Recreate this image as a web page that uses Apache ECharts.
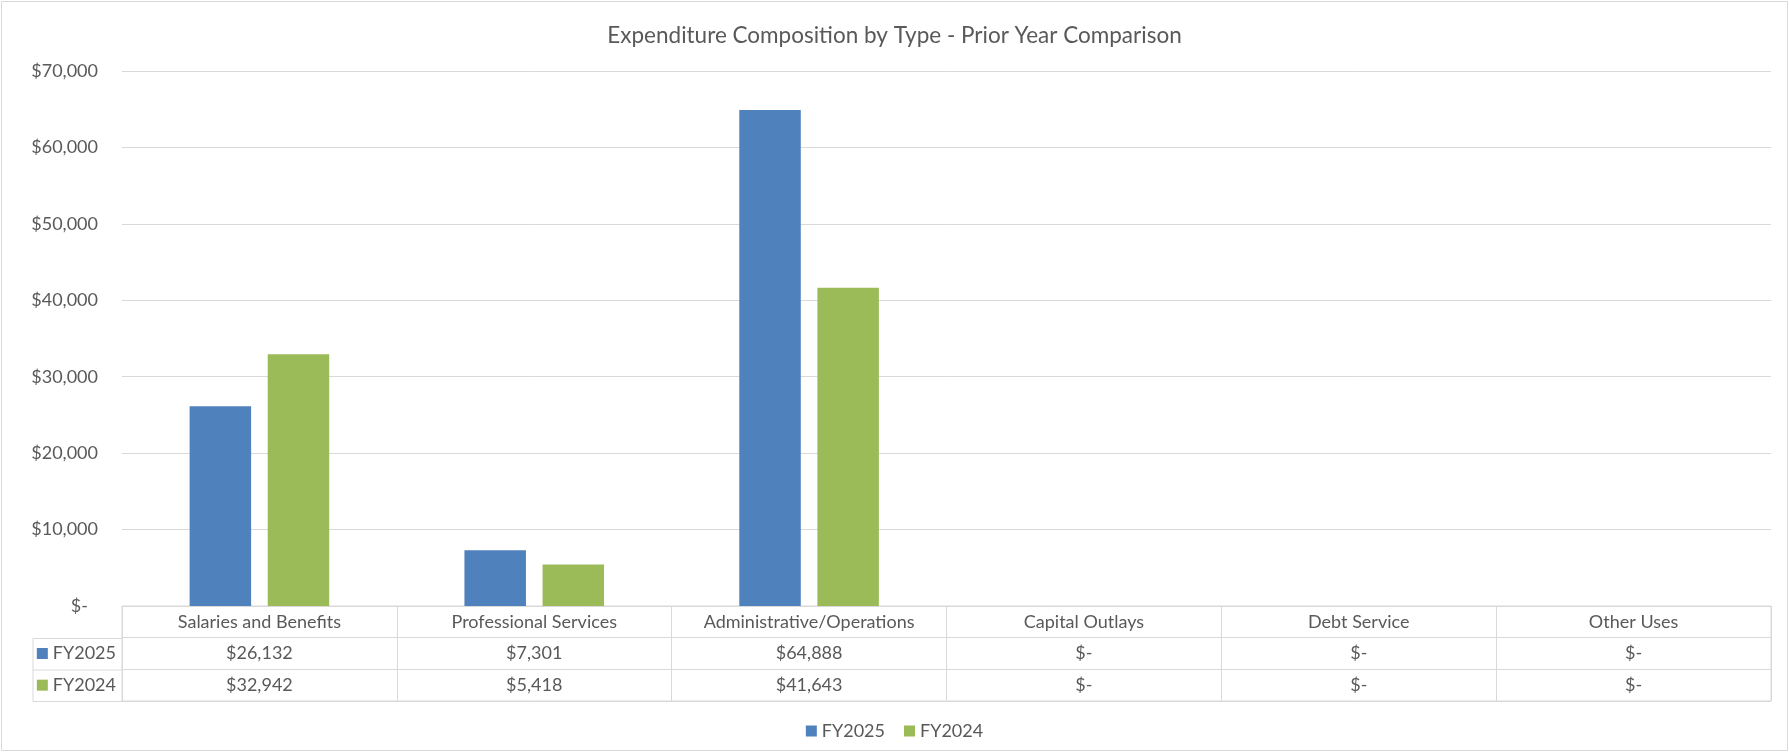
<!DOCTYPE html>
<html>
<head>
<meta charset="utf-8">
<script src="https://cdn.jsdelivr.net/npm/echarts@6/dist/echarts.min.js"></script>
<style>
  html, body { margin: 0; padding: 0; background: #ffffff; }
  #chart { width: 1789px; height: 752px; }
</style>
</head>
<body>
<div id="chart"></div>
<script>
// ---- Data ----
const chartTitle = 'Expenditure Composition by Type - Prior Year Comparison';
const categories = ['Salaries and Benefits', 'Professional Services', 'Administrative/Operations', 'Capital Outlays', 'Debt Service', 'Other Uses'];
const seriesNames = ['FY2025', 'FY2024'];
const fy2025 = [26132, 7301, 64888, 0, 0, 0];
const fy2024 = [32942, 5418, 41643, 0, 0, 0];
const yMin = 0, yMax = 70000, yInterval = 10000;

// ---- Styling ----
const FONT = 'Lato';
const TEXT = '#595959';
const GRIDC = '#d9d9d9';
const COLORS = ['#4F81BD', '#9BBB59'];

function money(v) {
  if (v === 0) return '$-';
  return '$' + v.toLocaleString('en-US');
}

const seriesData = [fy2025, fy2024];
const tableRows = ['', seriesNames[0], seriesNames[1]];
const cellData = [];
const cellText = [];
categories.forEach((c, i) => {
  cellData.push([i, 0]); cellText.push(c);
  seriesData.forEach((arr, s) => {
    cellData.push([i, s + 1]); cellText.push(money(arr[i]));
  });
});

const L = 122, R = 18, PT = 71, AXY = 606, TBH = 95;
const chart = echarts.init(document.getElementById('chart'), null, { renderer: 'canvas' });

const option = {
  animation: false,
  backgroundColor: '#ffffff',
  title: {
    text: chartTitle,
    left: 'center',
    top: 19,
    textStyle: { fontFamily: FONT, fontSize: 22.5, fontWeight: 'normal', color: TEXT }
  },
  legend: {
    data: seriesNames,
    left: 'center',
    top: 717,
    icon: 'rect',
    itemWidth: 11,
    itemHeight: 11,
    itemGap: 19,
    textStyle: { fontFamily: FONT, fontSize: 18, color: TEXT, padding: [0, 0, 0, 0] }
  },
  grid: [
    { left: L, right: R, top: PT, height: AXY - PT },
    { left: L, right: R, top: AXY, height: TBH, show: true, borderColor: GRIDC, borderWidth: 1, backgroundColor: 'transparent' }
  ],
  xAxis: [
    {
      type: 'category', gridIndex: 0, data: categories,
      axisLine: { show: true, lineStyle: { color: GRIDC, width: 1 } },
      axisTick: { show: false }, axisLabel: { show: false }, splitLine: { show: false }
    },
    {
      type: 'category', gridIndex: 1, data: categories, boundaryGap: true,
      axisLine: { show: false }, axisTick: { show: false }, axisLabel: { show: false },
      splitLine: { show: true, interval: 0, lineStyle: { color: GRIDC, width: 1 } }
    }
  ],
  yAxis: [
    {
      type: 'value', gridIndex: 0, min: yMin, max: yMax, interval: yInterval,
      axisLine: { show: false }, axisTick: { show: false },
      splitLine: { show: true, lineStyle: { color: GRIDC, width: 1 } },
      axisLabel: {
        margin: 24,
        fontFamily: FONT, fontSize: 18, color: TEXT,
        formatter: v => v === 0 ? '{z|$-}' : money(v),
        rich: { z: { fontFamily: FONT, fontSize: 18, color: TEXT, padding: [0, 10, 0, 0] } }
      }
    },
    {
      type: 'category', gridIndex: 1, data: tableRows, inverse: true, boundaryGap: true,
      axisLine: { show: false }, axisTick: { show: false },
      splitLine: { show: true, interval: 0, lineStyle: { color: GRIDC, width: 1 } },
      axisLabel: {
        margin: 6, interval: 0,
        formatter: (v, i) => v === '' ? '' : '{s' + (i - 1) + '|}{t|' + v + '}',
        rich: {
          s0: { width: 11, height: 11, backgroundColor: COLORS[0] },
          s1: { width: 11, height: 11, backgroundColor: COLORS[1] },
          t: { fontFamily: FONT, fontSize: 18, color: TEXT, padding: [0, 0, 0, 5] }
        }
      }
    }
  ],
  series: [
    {
      name: seriesNames[0], type: 'bar', xAxisIndex: 0, yAxisIndex: 0,
      data: fy2025, barWidth: 61.5, barGap: '27%',
      itemStyle: { color: COLORS[0] }
    },
    {
      name: seriesNames[1], type: 'bar', xAxisIndex: 0, yAxisIndex: 0,
      data: fy2024, barWidth: 61.5, barGap: '27%',
      itemStyle: { color: COLORS[1] }
    },
    {
      name: 'table', type: 'custom', xAxisIndex: 1, yAxisIndex: 1,
      data: cellData, silent: true,
      renderItem: (params, api) => {
        const p = api.coord([api.value(0), api.value(1)]);
        return {
          type: 'text', x: p[0], y: p[1],
          style: {
            text: cellText[params.dataIndex],
            align: 'center', verticalAlign: 'middle',
            fill: TEXT, font: '18px ' + FONT
          }
        };
      }
    }
  ],
  graphic: [
    { type: 'rect', shape: { x: 1.5, y: 1.5, width: 1786, height: 749 }, style: { fill: 'none', stroke: GRIDC, lineWidth: 1 }, silent: true },
    { type: 'polyline', shape: { points: [[L, 638.5], [33, 638.5], [33, 701.5], [L, 701.5]] }, style: { fill: 'none', stroke: GRIDC, lineWidth: 1 }, silent: true },
    { type: 'line', shape: { x1: 33, y1: 670, x2: L, y2: 670 }, style: { stroke: GRIDC, lineWidth: 1 }, silent: true }
  ]
};
chart.setOption(option);
</script>
</body>
</html>
